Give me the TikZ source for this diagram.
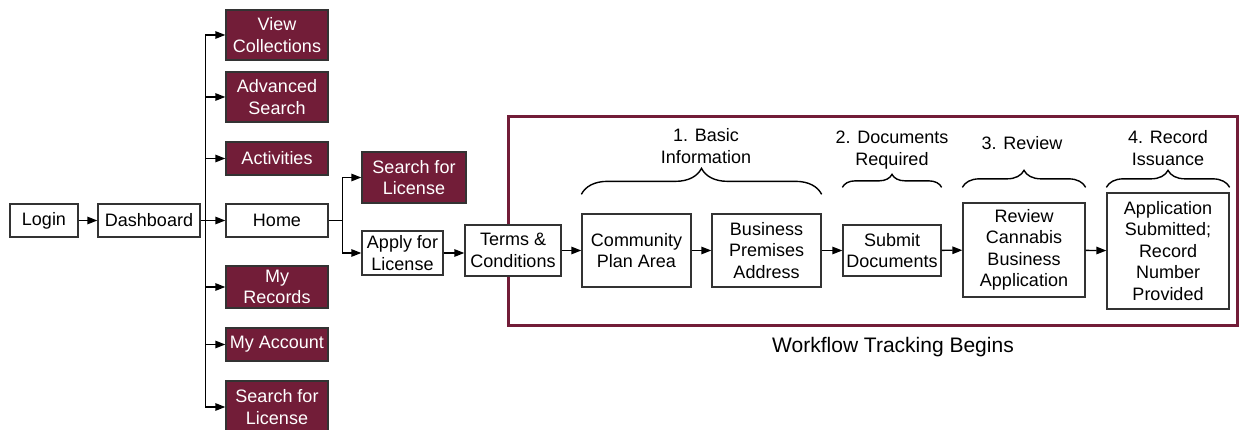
\documentclass[tikz,border=0pt]{standalone}
\usepackage{fontspec}
\setmainfont{Liberation Sans}
\usepackage{tikz}
\usetikzlibrary{calc}
\usetikzlibrary{arrows.meta}
\usetikzlibrary{decorations.pathreplacing}
\definecolor{maroon}{RGB}{114,29,56}
\tikzset{
  box/.style={draw=black!80, line width=1.3pt, inner sep=1pt, align=center, font=\fontsize{18}{21.5}\selectfont},
  arr/.style={line width=1.4pt, -{Triangle[length=10pt,width=7.5pt]}},
  brc/.style={line width=1.4pt, decorate, decoration={brace, amplitude=#1}},
  lbl/.style={align=center, font=\fontsize{18}{21.5}\selectfont}
}
\newcommand{\whitebox}[6]{\node[box, fill=white, minimum width=#4, minimum height=#5] (#1) at ( #2 , #3 ) {#6};}
\newcommand{\maroonbox}[6]{\node[box, fill=maroon, text=white, minimum width=#4, minimum height=#5] (#1) at ( #2 , #3 ) {#6};}
\begin{document}
\begin{tikzpicture}[x=1pt, y=-1pt]
        \useasboundingbox (0,0) rectangle (1239,430);
        % frame
        \draw[maroon, line width=3pt] (508,117) rectangle (1237,325);
        \node[lbl, font=\fontsize{21}{25}\selectfont] (track) at (893,347) {Workflow Tracking Begins};
        % left column
        \whitebox{login}{44}{220.5}{68}{33}{Login}
        \whitebox{dash}{149}{220.5}{102}{33}{Dashboard}
        \maroonbox{viewcol}{277}{35}{102}{50}{View\\Collections}
        \maroonbox{advsearch}{277}{97}{102}{50}{Advanced\\Search}
        \maroonbox{activ}{277}{158.5}{102}{33}{Activities}
        \whitebox{home}{277}{220.5}{102}{33}{Home}
        \maroonbox{myrec}{277}{287}{102}{42}{My\\Records}
        \maroonbox{myacc}{277}{344.5}{102}{33}{My Account}
        \maroonbox{search}{277}{407}{102}{52}{Search for\\License}
        % home branch
        \maroonbox{searchlic}{414}{177.5}{104}{51}{Search for\\License}
        \whitebox{apply}{402.5}{253}{81}{44}{Apply for\\License}
        \whitebox{terms}{513}{250.5}{96}{51}{Terms \&\\Conditions}
        % workflow
        \whitebox{commun}{636.5}{250.5}{109}{73}{Community\\Plan Area}
        \whitebox{premis}{766.5}{250.5}{109}{73}{Business\\Premises\\Address}
        \whitebox{submit}{892}{250.5}{98}{51}{Submit\\Documents}
        \whitebox{review}{1024}{250}{122}{94}{Review\\Cannabis\\Business\\Application}
        \whitebox{record}{1168}{251}{122}{116}{Application\\Submitted;\\Record\\Number\\Provided}

        % arrows
        \coordinate (trunk) at ($(dash.east)+(5,0)$);
        \coordinate (fork) at ($(home.east)+(14,0)$);
        \draw[arr] (login) -- (dash);
        \draw[arr] (dash) -- (home);
        \draw[arr] (trunk) |- (viewcol.west);
        \draw[arr] (trunk) |- (advsearch.west);
        \draw[arr] (trunk) |- (activ.west);
        \draw[arr] (trunk) |- (myrec.west);
        \draw[arr] (trunk) |- (myacc.west);
        \draw[arr] (trunk) |- (search.west);
        \draw[line width=1.4pt] (home) -- (fork);
        \draw[arr] (fork) |- (searchlic.west);
        \draw[arr] (fork) |- (apply.west);
        \draw[arr] (apply.east) -- (apply.east -| terms.west);
        \draw[arr] (terms) -- (commun);
        \draw[arr] (commun) -- (premis);
        \draw[arr] (premis) -- (submit);
        \draw[arr] (submit) -- (review);
        \draw[arr] (review) -- (record);

        % braces
        \draw[brc=26pt] ($(commun.north west)+(0,-19)$) -- ($(premis.north east)+(0,-19)$);
        \draw[brc=13pt] ($(submit.north west)+(0,-37)$) -- ($(submit.north east)+(0,-37)$);
        \draw[brc=17pt] ($(review.north west)+(0,-15)$) -- ($(review.north east)+(0,-15)$);
        \draw[brc=17pt] ($(record.north west)+(0,-5)$) -- ($(record.north east)+(0,-5)$);
        \node[lbl] (basic) at (706,146) {1. Basic\\Information};
        \node[lbl] (docs) at (892,150) {2. Documents\\Required};
        \node[lbl] (rev) at (1022,143) {3. Review};
        \node[lbl] (issue) at (1168,148) {4. Record\\Issuance};
\end{tikzpicture}
\end{document}
